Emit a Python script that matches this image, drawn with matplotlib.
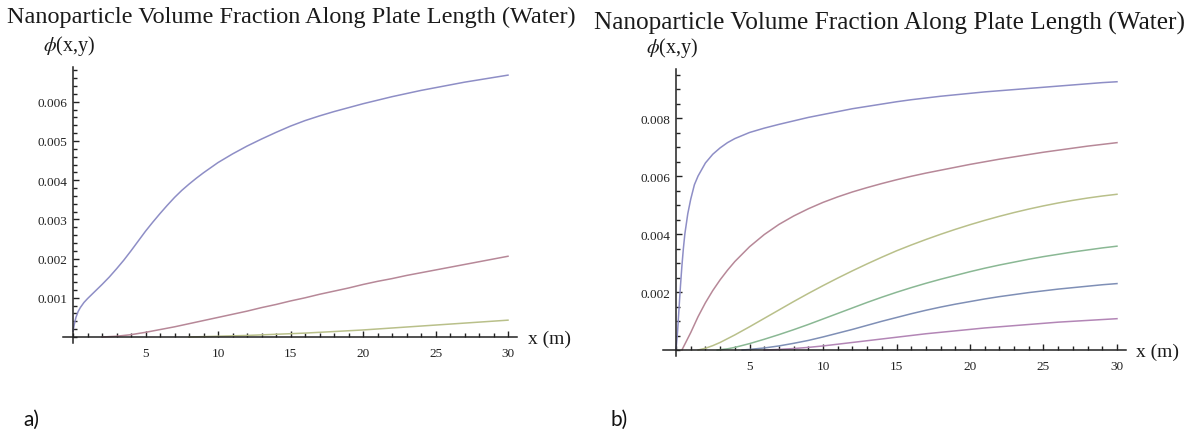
import matplotlib
matplotlib.use("Agg")
import matplotlib.pyplot as plt
from matplotlib.ticker import MultipleLocator, FixedLocator, FixedFormatter

plt.rcParams['mathtext.fontset'] = 'stix'
SERIF = ['Liberation Serif', 'DejaVu Serif']

title_text = "Nanoparticle Volume Fraction Along Plate Length (Water)"
ylabel_text = "$\\phi$(x,y)"
xlabel_text = "x (m)"
panel_labels = ["a)", "b)"]

# ---------------- Panel a data ----------------
a_blue_x = [0, 0.1, 0.2, 0.35, 0.5, 0.75, 1, 1.5, 2, 2.5, 3, 3.5, 4, 4.5, 5, 5.5, 6, 6.5, 7, 7.5, 8, 8.5, 9, 10, 11, 12, 13, 14, 15, 16, 17, 18, 19, 20, 21, 22, 23, 24, 25, 26, 27, 28, 29, 30]
a_blue_y = [0.00015, 0.00035, 0.0005, 0.00065, 0.00075, 0.00088, 0.00098, 0.00116, 0.00134, 0.00153, 0.00174, 0.00196, 0.0022, 0.00245, 0.0027, 0.00293, 0.00315, 0.00336, 0.00356, 0.00374, 0.0039, 0.00405, 0.00419, 0.00445, 0.00467, 0.00487, 0.00505, 0.00522, 0.00538, 0.00552, 0.00564, 0.00575, 0.00585, 0.00595, 0.00604, 0.00613, 0.00621, 0.00629, 0.00636, 0.00643, 0.0065, 0.00656, 0.00662, 0.00668]

a_red_x = [2, 3, 4, 5, 6, 7, 8, 9, 10, 11, 12, 13, 14, 15, 16, 17, 18, 19, 20, 21, 22, 23, 24, 25, 26, 27, 28, 29, 30]
a_red_y = [0.0, 0.00002, 0.00006, 0.00012, 0.00019, 0.00026, 0.00034, 0.00042, 0.0005, 0.00058, 0.00066, 0.00075, 0.00083, 0.00092, 0.001, 0.00109, 0.00117, 0.00125, 0.00134, 0.00142, 0.00149, 0.00157, 0.00164, 0.00171, 0.00178, 0.00185, 0.00192, 0.00199, 0.00206]

a_green_x = [8, 10, 12, 14, 16, 18, 20, 22, 24, 26, 28, 30]
a_green_y = [0.0, 0.00002, 0.00004, 0.00007, 0.0001, 0.00014, 0.00018, 0.00023, 0.00028, 0.00033, 0.00038, 0.00043]

# ---------------- Panel b data ----------------
b_blue_x = [0, 0.1, 0.2, 0.3, 0.4, 0.5, 0.6, 0.8, 1.0, 1.25, 1.5, 2, 2.5, 3, 3.5, 4, 5, 6, 7, 8, 9, 10, 11, 12, 13, 14, 15, 16, 17, 18, 19, 20, 21, 22, 23, 24, 25, 26, 27, 28, 29, 30]
b_blue_y = [0.0, 0.0006, 0.0014, 0.0022, 0.0029, 0.0035, 0.004, 0.0047, 0.0052, 0.0057, 0.006, 0.00645, 0.00675, 0.00697, 0.00715, 0.00729, 0.0075, 0.00765, 0.00778, 0.0079, 0.00802, 0.00812, 0.00822, 0.00832, 0.0084, 0.00848, 0.00856, 0.00863, 0.00869, 0.00875, 0.0088, 0.00885, 0.0089, 0.00894, 0.00898, 0.00902, 0.00906, 0.0091, 0.00914, 0.00918, 0.00922, 0.00925]

b_red_x = [0.4, 1, 1.5, 2, 2.5, 3, 3.5, 4, 5, 6, 7, 8, 9, 10, 11, 12, 13, 14, 15, 16, 17, 18, 19, 20, 21, 22, 23, 24, 25, 26, 27, 28, 29, 30]
b_red_y = [0.0, 0.0006, 0.00115, 0.00163, 0.00205, 0.00242, 0.00275, 0.00305, 0.00356, 0.00398, 0.00433, 0.00462, 0.00487, 0.00509, 0.00528, 0.00545, 0.0056, 0.00574, 0.00587, 0.00599, 0.0061, 0.0062, 0.0063, 0.0064, 0.00649, 0.00658, 0.00666, 0.00674, 0.00682, 0.00689, 0.00696, 0.00703, 0.00709, 0.00715]

b_olive_x = [1.5, 2, 2.5, 3, 4, 5, 6, 7, 8, 9, 10, 11, 12, 13, 14, 15, 16, 17, 18, 19, 20, 21, 22, 23, 24, 25, 26, 27, 28, 29, 30]
b_olive_y = [0.0, 0.00006, 0.00015, 0.00026, 0.00052, 0.0008, 0.00109, 0.00138, 0.00167, 0.00195, 0.00222, 0.00248, 0.00273, 0.00297, 0.0032, 0.00342, 0.00362, 0.00381, 0.00399, 0.00416, 0.00432, 0.00447, 0.00461, 0.00474, 0.00486, 0.00497, 0.00507, 0.00516, 0.00524, 0.00531, 0.00537]

b_green_x = [2.8, 3.5, 4, 5, 6, 7, 8, 9, 10, 11, 12, 13, 14, 15, 16, 17, 18, 19, 20, 21, 22, 23, 24, 25, 26, 27, 28, 29, 30]
b_green_y = [0.0, 0.00004, 0.00009, 0.00022, 0.00037, 0.00053, 0.0007, 0.00088, 0.00107, 0.00126, 0.00145, 0.00164, 0.00182, 0.00199, 0.00215, 0.0023, 0.00244, 0.00257, 0.0027, 0.00282, 0.00293, 0.00303, 0.00313, 0.00322, 0.0033, 0.00338, 0.00345, 0.00352, 0.00358]

b_blue2_x = [4.5, 5, 6, 7, 8, 9, 10, 11, 12, 13, 14, 15, 16, 17, 18, 19, 20, 21, 22, 23, 24, 25, 26, 27, 28, 29, 30]
b_blue2_y = [0.0, 0.00002, 0.00007, 0.00014, 0.00023, 0.00033, 0.00045, 0.00058, 0.00071, 0.00085, 0.00099, 0.00112, 0.00125, 0.00137, 0.00148, 0.00158, 0.00167, 0.00176, 0.00184, 0.00191, 0.00198, 0.00204, 0.0021, 0.00215, 0.0022, 0.00225, 0.00229]

b_purple_x = [6, 7, 8, 9, 10, 11, 12, 13, 14, 15, 16, 17, 18, 19, 20, 21, 22, 23, 24, 25, 26, 27, 28, 29, 30]
b_purple_y = [0.0, 0.00002, 0.00005, 0.00009, 0.00014, 0.0002, 0.00026, 0.00032, 0.00038, 0.00044, 0.0005, 0.00056, 0.00061, 0.00066, 0.00071, 0.00076, 0.0008, 0.00084, 0.00088, 0.00092, 0.00096, 0.00099, 0.00102, 0.00105, 0.00108]

a_yticks = [0.001, 0.002, 0.003, 0.004, 0.005, 0.006]
a_yticklabels = ["0.001", "0.002", "0.003", "0.004", "0.005", "0.006"]
b_yticks = [0.002, 0.004, 0.006, 0.008]
b_yticklabels = ["0.002", "0.004", "0.006", "0.008"]
xticks = [5, 10, 15, 20, 25, 30]
xticklabels = ["5", "10", "15", "20", "25", "30"]

C_BLUE = '#8e8ec6'
C_RED = '#b78898'
C_OLIVE = '#b9c08a'
C_GREEN = '#8ab894'
C_BLUE2 = '#7f8fb6'
C_PURPLE = '#b386b6'

W, H = 1196, 435
fig = plt.figure(figsize=(W / 100, H / 100), dpi=100)

def px_axes(x0_px, x1_px, ytop_px, ybot_px):
    return fig.add_axes([x0_px / W, 1 - ybot_px / H, (x1_px - x0_px) / W, (ybot_px - ytop_px) / H])

def style(ax, xlim, ylim, yticks, yticklabels, yminor):
    ax.set_xlim(*xlim)
    ax.set_ylim(*ylim)
    for s in ['top', 'right']:
        ax.spines[s].set_visible(False)
    ax.spines['left'].set_position(('data', 0))
    ax.spines['bottom'].set_position(('data', 0))
    for s in ['left', 'bottom']:
        ax.spines[s].set_linewidth(1.1)
        ax.spines[s].set_color('#222222')
    ax.xaxis.set_major_locator(FixedLocator(xticks))
    ax.xaxis.set_major_formatter(FixedFormatter(xticklabels))
    ax.xaxis.set_minor_locator(MultipleLocator(1))
    ax.yaxis.set_major_locator(FixedLocator(yticks))
    ax.yaxis.set_major_formatter(FixedFormatter(yticklabels))
    ax.yaxis.set_minor_locator(MultipleLocator(yminor))
    ax.tick_params(which='both', direction='in', color='#222222', width=1.0)
    ax.tick_params(which='major', length=4.5)
    ax.tick_params(which='minor', length=2.8)
    ax.tick_params(axis='x', which='major', pad=7)
    ax.tick_params(axis='y', which='major', pad=4)
    for lab in ax.get_xticklabels() + ax.get_yticklabels():
        lab.set_fontfamily(SERIF)
        lab.set_fontsize(9.5)
        lab.set_color('#222222')
    ax.patch.set_alpha(0)

# Panel a
axa = px_axes(62.9, 516.7, 67.5, 343.9)
axa.plot(a_blue_x, a_blue_y, color=C_BLUE, lw=1.1)
axa.plot(a_red_x, a_red_y, color=C_RED, lw=1.1)
axa.plot(a_green_x, a_green_y, color=C_OLIVE, lw=1.1)
style(axa, (-0.7, 30.6), (-0.00015, 0.0069), a_yticks, a_yticklabels, 0.0002)

# Panel b
axb = px_axes(662.8, 1125.8, 69.7, 356.8)
axb.plot(b_blue_x, b_blue_y, color=C_BLUE, lw=1.1)
axb.plot(b_red_x, b_red_y, color=C_RED, lw=1.1)
axb.plot(b_olive_x, b_olive_y, color=C_OLIVE, lw=1.1)
axb.plot(b_green_x, b_green_y, color=C_GREEN, lw=1.1)
axb.plot(b_blue2_x, b_blue2_y, color=C_BLUE2, lw=1.1)
axb.plot(b_purple_x, b_purple_y, color=C_PURPLE, lw=1.1)
style(axb, (-0.9, 30.6), (-0.0002, 0.0097), b_yticks, b_yticklabels, 0.0005)

# Titles and labels
fig.text(7 / W, 1 - 17 / H, title_text, family=SERIF, fontsize=17.5, color='#1a1a1a', va='center', ha='left')
fig.text(594 / W, 1 - 23 / H, title_text, family=SERIF, fontsize=18.2, color='#1a1a1a', va='center', ha='left')
fig.text(43 / W, 1 - 46 / H, ylabel_text, family=SERIF, fontsize=14.5, color='#1a1a1a', va='center', ha='left')
fig.text(646 / W, 1 - 48 / H, ylabel_text, family=SERIF, fontsize=14.5, color='#1a1a1a', va='center', ha='left')
fig.text(528 / W, 1 - 339 / H, xlabel_text, family=SERIF, fontsize=14, color='#1a1a1a', va='center', ha='left')
fig.text(1136 / W, 1 - 352 / H, xlabel_text, family=SERIF, fontsize=14, color='#1a1a1a', va='center', ha='left')
fig.text(23 / W, 1 - 420 / H, panel_labels[0], family=['Lato', 'DejaVu Sans'], fontsize=15, color='#111111', va='center', ha='left')
fig.text(610 / W, 1 - 420 / H, panel_labels[1], family=['Lato', 'DejaVu Sans'], fontsize=15, color='#111111', va='center', ha='left')

fig.savefig('out.png', dpi=100)
